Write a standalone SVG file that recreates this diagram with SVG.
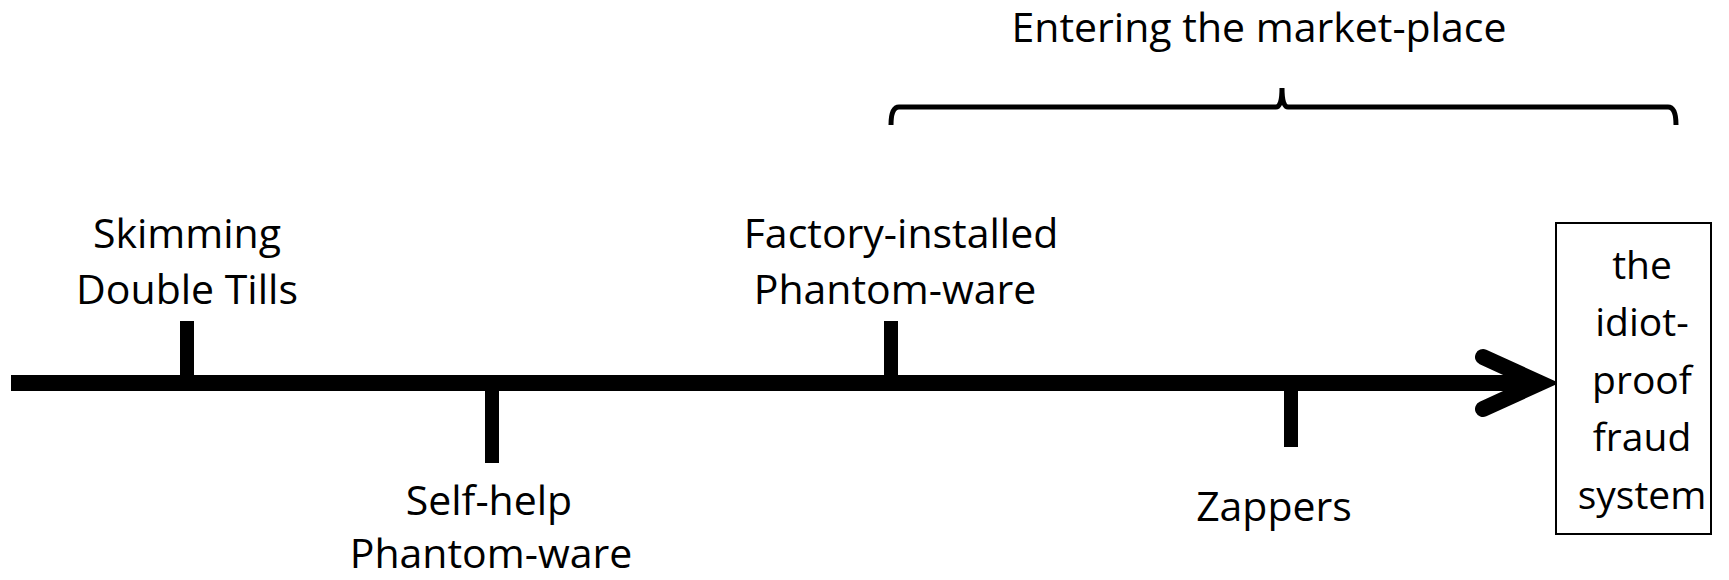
<svg xmlns="http://www.w3.org/2000/svg" width="1729" height="580" viewBox="0 0 1729 580">
<style>
.t{font-family:"Open Sans","Liberation Sans",sans-serif;font-size:41px;fill:#000;text-anchor:middle}
.b{font-size:39px}
.tick{stroke:#000;stroke-width:14;fill:none}
</style>
<rect width="1729" height="580" fill="#fff"/>
<g id="connectors">
<line x1="11" y1="383" x2="1535" y2="383" stroke="#000" stroke-width="16"/>
<polyline points="1483,357 1540,383 1483,409" fill="none" stroke="#000" stroke-width="16" stroke-linecap="round" stroke-linejoin="miter"/>
<path d="M891,125 Q891,107 899,107 L1276,107 Q1282,107 1282,88 Q1282,107 1288,107 L1668,107 Q1676,107 1676,125" fill="none" stroke="#000" stroke-width="5"/>
</g>
<g id="tick-skimming"><line class="tick" x1="187" y1="321" x2="187" y2="380"/>
<text class="t" x="187" y="248">Skimming</text><text class="t" x="187" y="304">Double Tills</text></g>
<g id="tick-selfhelp"><line class="tick" x1="492" y1="386" x2="492" y2="463"/>
<text class="t" x="489" y="515">Self-help</text><text class="t" x="491" y="568">Phantom-ware</text></g>
<g id="tick-factory"><line class="tick" x1="891" y1="321" x2="891" y2="380"/>
<text class="t" x="901" y="248">Factory-installed</text><text class="t" x="895" y="304">Phantom-ware</text></g>
<g id="tick-zappers"><line class="tick" x1="1291" y1="386" x2="1291" y2="447"/>
<text class="t" x="1274" y="521">Zappers</text></g>
<g id="label-market"><text class="t" x="1259" y="42">Entering the market-place</text></g>
<g id="box-system">
<rect x="1556" y="223" width="155" height="311" fill="#fff" stroke="#000" stroke-width="2"/>
<text class="t b" x="1642" y="279">the</text>
<text class="t b" x="1642" y="336">idiot-</text>
<text class="t b" x="1642" y="394">proof</text>
<text class="t b" x="1642" y="451">fraud</text>
<text class="t b" x="1642" y="509">system</text>
</g>
</svg>
